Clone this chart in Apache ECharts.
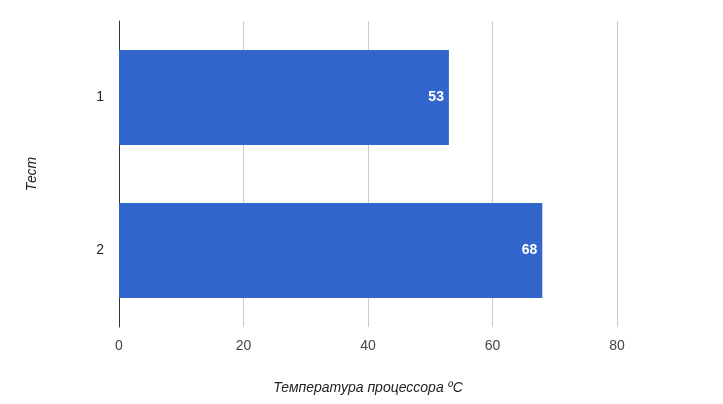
<!DOCTYPE html>
<html><head><meta charset="utf-8">
<script src="https://cdn.jsdelivr.net/npm/echarts@6/dist/echarts.min.js"></script>
<style>html,body{margin:0;padding:0;background:#fff}#c{width:723px;height:404px}</style>
</head><body><div id="c"></div>
<script>
const categories = ['1', '2'];
const values = [53, 68];
const xTicks = [0, 20, 40, 60, 80];
const xTitle = 'Температура процессора ºC';
const yTitle = 'Тест';

const chart = echarts.init(document.getElementById('c'));
chart.setOption({
  animation: false,
  textStyle: { fontFamily: 'Liberation Sans, Arial, sans-serif' },
  grid: { left: 119, right: 106, top: 21, bottom: 77 },
  xAxis: {
    type: 'value', min: xTicks[0], max: xTicks[xTicks.length - 1], interval: 20,
    name: xTitle, nameLocation: 'middle', nameGap: 54,
    nameTextStyle: { fontStyle: 'italic', fontSize: 14, color: '#222' },
    axisLine: { show: false }, axisTick: { show: false },
    axisLabel: { color: '#444', fontSize: 14, margin: 12 },
    splitLine: { lineStyle: { color: '#cccccc' } }
  },
  yAxis: {
    type: 'category', data: categories, inverse: true,
    name: yTitle, nameLocation: 'middle', nameGap: 80, nameRotate: 90,
    nameTextStyle: { fontStyle: 'italic', fontSize: 14, color: '#222' },
    axisLine: { show: true, lineStyle: { color: '#333', width: 1 } },
    axisTick: { show: false },
    axisLabel: { color: '#222', fontSize: 14, margin: 15 }
  },
  series: [{
    type: 'bar', data: values, barWidth: '62%',
    itemStyle: { color: '#3366cc' },
    label: { show: true, position: 'insideRight', distance: 5, color: '#fff', fontWeight: 'bold', fontSize: 14 }
  }]
});
</script></body></html>
